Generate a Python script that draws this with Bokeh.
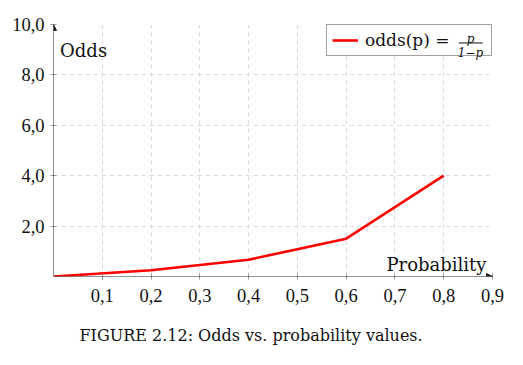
from bokeh.plotting import figure
from bokeh.models import (Range1d, FixedTicker, Legend, LegendItem, Label, Arrow,
                          NormalHead, ColumnDataSource, BoxAnnotation, Title)
from bokeh.embed import file_html
from bokeh.resources import INLINE

# data
prob = [0.0, 0.2, 0.4, 0.6, 0.8]
odds = [0.0, 0.25, 0.667, 1.5, 4.0]
x_ticks = [0.1, 0.2, 0.3, 0.4, 0.5, 0.6, 0.7, 0.8, 0.9]
x_tick_labels = ["0,1", "0,2", "0,3", "0,4", "0,5", "0,6", "0,7", "0,8", "0,9"]
y_ticks = [2, 4, 6, 8, 10]
y_tick_labels = ["2,0", "4,0", "6,0", "8,0", "10,0"]

TEXT_FONT = "DejaVu Serif"
TICK_FONT = "Liberation Serif"

p = figure(width=515, height=364, x_range=Range1d(0, 0.9), y_range=Range1d(0, 10),
           output_backend="svg", toolbar_location=None,
           min_border_left=53, min_border_right=23, min_border_top=24, min_border_bottom=88)
p.outline_line_color = None
p.background_fill_color = "white"

src = ColumnDataSource(dict(x=prob, y=odds))
r = p.line("x", "y", source=src, line_color="#ff0000", line_width=2.6)

for ax, ticks, labels in ((p.xaxis[0], x_ticks, x_tick_labels), (p.yaxis[0], y_ticks, y_tick_labels)):
    ax.ticker = FixedTicker(ticks=ticks)
    ax.major_label_overrides = {t: l for t, l in zip(ticks, labels)}
    ax.axis_line_color = None
    ax.major_tick_line_color = "#9a9a9a"
    ax.major_tick_in = 3
    ax.major_tick_out = 3
    ax.minor_tick_line_color = None
    ax.major_label_text_font = TICK_FONT
    ax.major_label_text_font_size = "18.5px"
    ax.major_label_text_color = "#111111"
p.xaxis.major_label_standoff = 9
p.yaxis.major_label_standoff = 6

p.xgrid.ticker = FixedTicker(ticks=x_ticks)
p.ygrid.ticker = FixedTicker(ticks=y_ticks)
for g in (p.xgrid, p.ygrid):
    g.grid_line_color = "#d8d8d8"
    g.grid_line_dash = "4 4"
    g.grid_line_width = 1

# axis arrows
p.add_layout(Arrow(end=NormalHead(size=6, fill_color="#222222", line_color="#222222"),
                   x_start=0, y_start=0, x_end=0.9, y_end=0,
                   line_color="#222222", line_width=1))
p.add_layout(Arrow(end=NormalHead(size=6, fill_color="#222222", line_color="#222222"),
                   x_start=0, y_start=0, x_end=0, y_end=10,
                   line_color="#222222", line_width=1))

# axis labels
p.add_layout(Label(x=0.0135, y=8.97, text="Odds", text_font=TEXT_FONT,
                   text_font_size="18px", text_color="#111111", text_baseline="alphabetic"))
p.add_layout(Label(x=0.8877, y=0.476, text="Probability", text_font=TEXT_FONT,
                   text_font_size="18px", text_color="#111111", text_align="right",
                   text_baseline="alphabetic"))

# legend: white backing box, then transparent legend on top
p.add_layout(BoxAnnotation(left=0.5525, right=0.9, top=10, bottom=8.79,
                           fill_color="white", fill_alpha=1, line_color=None))
legend = Legend(items=[LegendItem(label="odds(p) =", renderers=[r])], location="top_right",
                margin=0, padding=5, spacing=0, glyph_width=26, glyph_height=20,
                label_standoff=7, label_width=121, label_height=20,
                label_text_font=TEXT_FONT, label_text_font_size="17px",
                label_text_color="#111111",
                border_line_color="#444444", border_line_width=1,
                background_fill_alpha=0)
p.add_layout(legend)

# fraction p / (1-p) in legend
p.add_layout(Label(x=0.855, y=9.444, text="p", text_font=TEXT_FONT, text_font_style="italic",
                   text_font_size="12px", text_color="#111111", text_align="center",
                   text_baseline="alphabetic"))
p.add_layout(Arrow(end=None, x_start=0.831, y_start=9.266, x_end=0.880, y_end=9.266,
                   line_color="#111111", line_width=1))
p.add_layout(Label(x=0.855, y=8.87, text="1−p", text_font=TEXT_FONT, text_font_style="italic",
                   text_font_size="12px", text_color="#111111", text_align="center",
                   text_baseline="alphabetic"))

# caption
p.add_layout(Title(text="FIGURE 2.12: Odds vs. probability values.", align="left", offset=26,
                   standoff=39, text_font=TEXT_FONT, text_font_size="16px",
                   text_font_style="normal", text_color="#111111"), "below")

open("out.html", "w").write(file_html(p, INLINE))
